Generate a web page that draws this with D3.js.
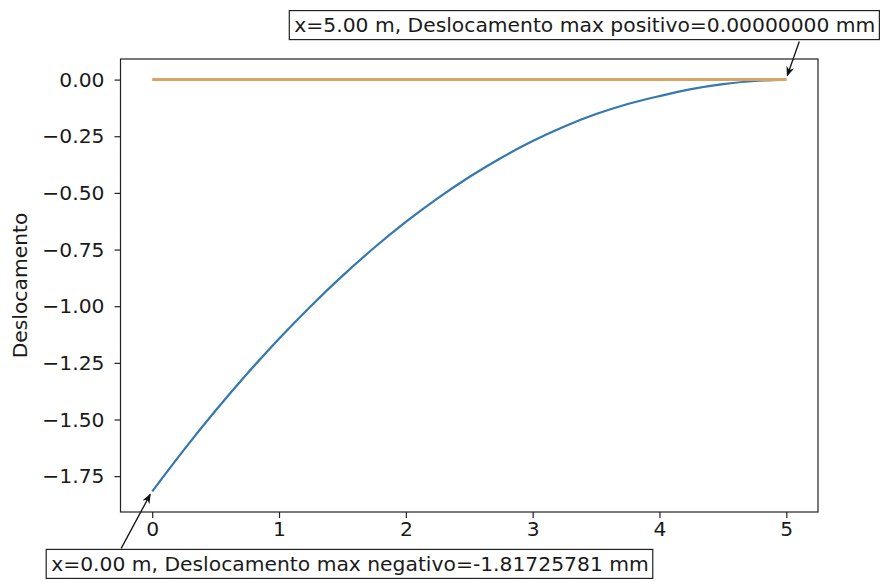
<!DOCTYPE html>
<html>
<head>
<meta charset="utf-8">
<script src="https://cdn.jsdelivr.net/npm/d3@7"></script>
<style>
  html, body { margin: 0; padding: 0; background: #fff; }
  svg text { font-family: "DejaVu Sans", sans-serif; fill: #1a1a1a; }
</style>
</head>
<body>
<svg id="chart" width="891" height="583"></svg>
<script>
// ---- data ----
const xPositions = [0, 0.25, 0.5, 0.75, 1, 1.25, 1.5, 1.75, 2, 2.25, 2.5, 2.75, 3, 3.25, 3.5, 3.75, 4, 4.25, 4.5, 4.75, 5];
const deslocamento = [-1.81725781, -1.6337, -1.4604, -1.2970, -1.1435, -0.9998, -0.8661, -0.7422, -0.6283, -0.5242, -0.4300, -0.3457, -0.2713, -0.2068, -0.1522, -0.1075, -0.0727, -0.0424, -0.0202, -0.0061, 0];
const referenceLineX = [0, 5];
const referenceLineY = [0, 0];
const xTicks = [0, 1, 2, 3, 4, 5];
const yTicks = [0, -0.25, -0.5, -0.75, -1.0, -1.25, -1.5, -1.75];
const yLabel = "Deslocamento";
const annotMax = { x: 5, y: 0, text: "x=5.00 m, Deslocamento max positivo=0.00000000 mm" };
const annotMin = { x: 0, y: -1.81725781, text: "x=0.00 m, Deslocamento max negativo=-1.81725781 mm" };

// ---- layout ----
const svg = d3.select("#chart");
const plot = { left: 120.5, right: 818, top: 59, bottom: 512 };
const fontSize = 20.3;

const x = d3.scaleLinear().domain([-0.25, 5.25]).range([plot.left, plot.right]);
const yMin = -1.81725781, yMax = 0;
const pad = (yMax - yMin) * 0.05;
const y = d3.scaleLinear().domain([yMin - pad, yMax + pad]).range([plot.bottom, plot.top]);

const fmtY = v => d3.format(".2f")(v).replace("-", "\u2212");

// axes
const xAxis = svg.append("g")
  .attr("transform", `translate(0,${plot.bottom})`)
  .call(d3.axisBottom(x).tickValues(xTicks).tickFormat(d3.format("d")).tickSize(6).tickPadding(4));
const yAxis = svg.append("g")
  .attr("transform", `translate(${plot.left},0)`)
  .call(d3.axisLeft(y).tickValues(yTicks).tickFormat(fmtY).tickSize(6).tickPadding(10));
[xAxis, yAxis].forEach(g => {
  g.select(".domain").remove();
  g.selectAll("line").attr("stroke", "#222").attr("stroke-width", 1.2);
  g.selectAll("text").attr("font-size", fontSize).attr("font-family", "DejaVu Sans").attr("fill", "#1a1a1a");
});

// y label
svg.append("text")
  .attr("transform", `translate(27,${(plot.top + plot.bottom) / 2}) rotate(-90)`)
  .attr("text-anchor", "middle")
  .attr("font-size", fontSize)
  .text(yLabel);

// lines
const line = d3.line().x(d => x(d[0])).y(d => y(d[1])).curve(d3.curveMonotoneX);
svg.append("path")
  .datum(xPositions.map((v, i) => [v, deslocamento[i]]))
  .attr("d", line)
  .attr("fill", "none")
  .attr("stroke", "#3478ae")
  .attr("stroke-width", 2.2);
svg.append("path")
  .datum(referenceLineX.map((v, i) => [v, referenceLineY[i]]))
  .attr("d", line)
  .attr("fill", "none")
  .attr("stroke", "#d9a366")
  .attr("stroke-width", 3);

// frame
svg.append("rect")
  .attr("x", plot.left).attr("y", plot.top)
  .attr("width", plot.right - plot.left).attr("height", plot.bottom - plot.top)
  .attr("fill", "none").attr("stroke", "#222").attr("stroke-width", 1.2);

// arrow marker
svg.append("defs").append("marker")
  .attr("id", "arrow").attr("viewBox", "0 0 10 10")
  .attr("refX", 9).attr("refY", 5)
  .attr("markerWidth", 10).attr("markerHeight", 10)
  .attr("markerUnits", "userSpaceOnUse")
  .attr("orient", "auto")
  .append("path").attr("d", "M0,1 L10,5 L0,9 L3,5 Z").attr("fill", "#111");

function annotate(a, textStartDx, baselineDy, arrowFrom, arrowTo) {
  const px = x(a.x), py = y(a.y);
  const g = svg.append("g");
  const t = g.append("text")
    .attr("x", px + textStartDx).attr("y", py + baselineDy)
    .attr("font-size", fontSize).text(a.text);
  const bb = t.node().getBBox();
  g.insert("rect", "text")
    .attr("x", bb.x - 5).attr("y", bb.y - 2.5)
    .attr("width", bb.width + 9).attr("height", bb.height + 5)
    .attr("fill", "#fff").attr("stroke", "#222").attr("stroke-width", 1.2);
  svg.append("line")
    .attr("x1", px + arrowFrom[0]).attr("y1", py + arrowFrom[1])
    .attr("x2", px + arrowTo[0]).attr("y2", py + arrowTo[1])
    .attr("stroke", "#111").attr("stroke-width", 1.3)
    .attr("marker-end", "url(#arrow)");
}
annotate(annotMax, -492, -47.5, [13, -38], [1, -4]);
annotate(annotMin, -101, 79.5, [-31, 57], [-2, 3]);
</script>
</body>
</html>
